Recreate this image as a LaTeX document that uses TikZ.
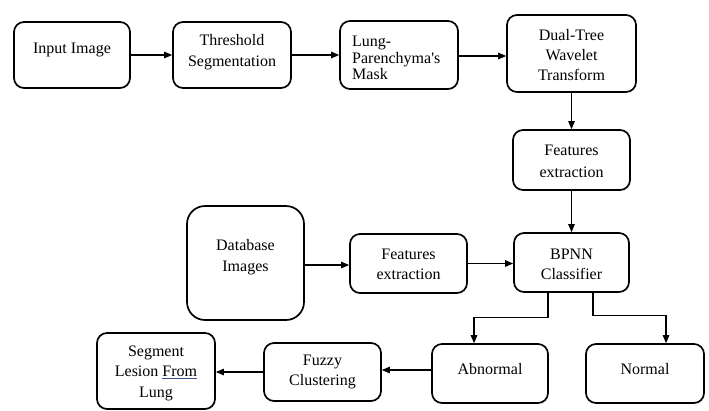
\documentclass[tikz,border=0pt]{standalone}
\usepackage{fontspec}
\setmainfont{Liberation Serif}
\newfontfamily\tnr{Liberation Serif}
\usetikzlibrary{arrows.meta,calc}
\definecolor{ulblue}{RGB}{60,80,140}
\begin{document}
\begin{tikzpicture}[x=1pt,y=-1pt,
  box/.style={draw=black,line width=1.7pt,rounded corners=10pt,inner sep=0pt},
  lbl/.style={font=\tnr\fontsize{16}{20}\selectfont,align=center,inner sep=0pt},
  arr/.style={line width=1.1pt,-{Triangle[length=8pt,width=6.5pt]}}]
\useasboundingbox (0,0) rectangle (709,410);
% boxes
\node[box,minimum width=116pt,minimum height=66pt] (in) at (72,55) {};
\node[lbl] at (72,50) {Input Image};
\node[box,minimum width=118pt,minimum height=66pt] (thr) at (232,55) {};
\node[lbl,font=\tnr\fontsize{16}{21}\selectfont] at (232,52) {Threshold\\Segmentation};
\node[box,minimum width=118pt,minimum height=68pt] (lung) at (399,55) {};
\node[lbl,align=left,anchor=west,font=\tnr\fontsize{16}{16.5}\selectfont] at (352,58) {Lung-\\Parenchyma's\\Mask};
\node[box,minimum width=129pt,minimum height=77pt] (dual) at (571.5,53.5) {};
\node[lbl] at (571.5,55) {Dual-Tree\\Wavelet\\Transform};
\node[box,minimum width=117pt,minimum height=60pt] (fe1) at (571.5,160) {};
\node[lbl,font=\tnr\fontsize{16}{22}\selectfont] at (571.5,161) {Features\\extraction};
\node[box,rounded corners=18pt,minimum width=117pt,minimum height=114pt] (db) at (245.5,263) {};
\node[lbl,font=\tnr\fontsize{16}{21}\selectfont] at (245.5,257.5) {Database\\Images};
\node[box,minimum width=117pt,minimum height=59pt] (fe2) at (408.5,263.5) {};
\node[lbl] at (408.5,264) {Features\\extraction};
\node[box,minimum width=115pt,minimum height=59pt] (bp) at (571.5,262.5) {};
\node[lbl] at (571.5,264) {BPNN\\Classifier};
\node[box,minimum width=116pt,minimum height=59pt] (ab) at (490,373.5) {};
\node[lbl] at (490,369) {Abnormal};
\node[box,minimum width=118pt,minimum height=59pt] (no) at (645,373.5) {};
\node[lbl] at (645,369) {Normal};
\node[box,minimum width=117pt,minimum height=58pt] (fz) at (322.5,372) {};
\node[lbl] at (322.5,372) {Fuzzy\\Clustering};
\node[box,minimum width=118pt,minimum height=76pt] (seg) at (156,371) {};
\node[lbl,font=\tnr\fontsize{16}{20.5}\selectfont] at (156,373) {Segment\\Lesion {\color{ulblue}\underline{\textcolor{black}{From}}}\\Lung};
% connectors
\draw[arr] (in.east) -- (thr.west);
\draw[arr] (thr.east) -- (lung.west);
\draw[arr] ([yshift=-1pt]lung.east) -- ([yshift=-1pt]lung.east -| dual.west);
\draw[arr] (dual.south) -- (fe1.north);
\draw[arr] (fe1.south) -- (bp.north);
\draw[arr] ([yshift=-2pt]db.east) -- ([yshift=-2pt]db.east -| fe2.west);
\draw[arr] (fe2.east) -- (fe2.east -| bp.west);
\coordinate (abin) at ($(ab.north)+(-16,0)$);
\coordinate (noin) at ($(no.north)+(21,0)$);
\draw[arr] ([xshift=-23.5pt]bp.south) |- ($(abin)+(0,-26)$) -- (abin);
\draw[arr] ([xshift=21.5pt]bp.south) |- ($(noin)+(0,-28)$) -- (noin);
\draw[arr] ([yshift=3.5pt]ab.west) -- ([yshift=3.5pt]ab.west -| fz.east);
\draw[arr] (fz.west) -- (fz.west -| seg.east);
\end{tikzpicture}
\end{document}
